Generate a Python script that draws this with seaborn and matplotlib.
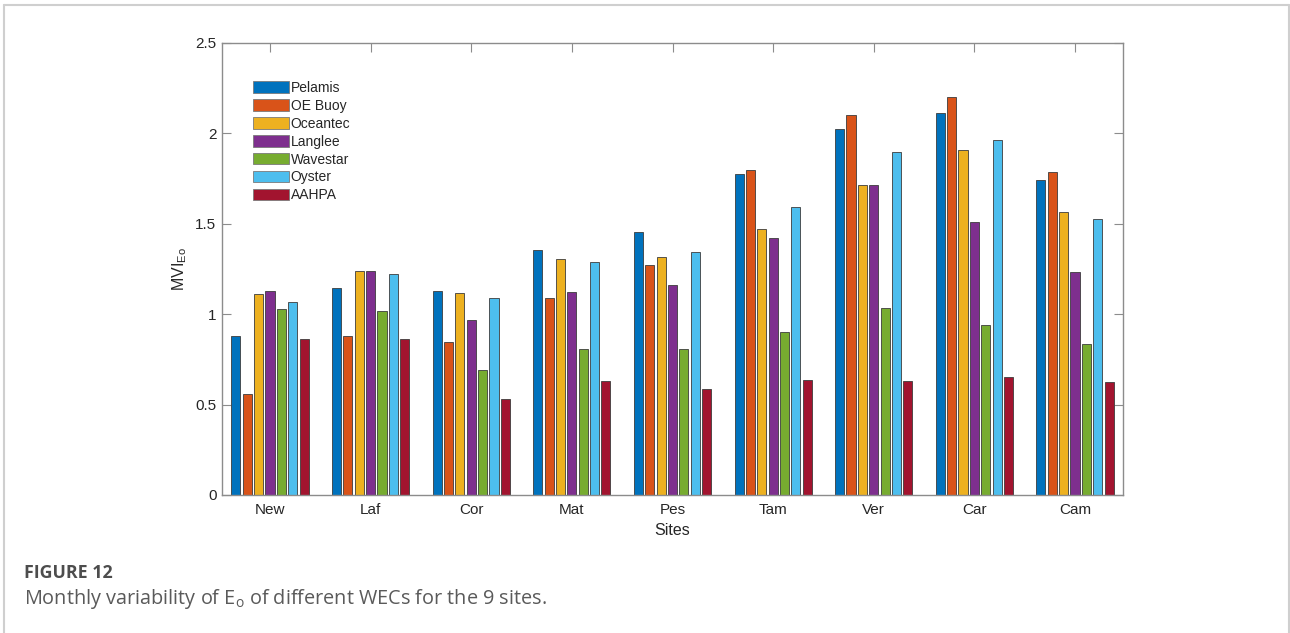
import matplotlib
matplotlib.use("Agg")
import matplotlib.pyplot as plt
from matplotlib.lines import Line2D
from matplotlib.ticker import FuncFormatter
import seaborn as sns
import pandas as pd

# Monthly variability index of Eo for each converter at each site
sites = ["New", "Laf", "Cor", "Mat", "Pes", "Tam", "Ver", "Car", "Cam"]
wecs = ["Pelamis", "OE Buoy", "Oceantec", "Langlee", "Wavestar", "Oyster", "AAHPA"]

pelamis = [0.879, 1.143, 1.128, 1.355, 1.456, 1.775, 2.022, 2.111, 1.740]
oe_buoy = [0.557, 0.879, 0.845, 1.090, 1.272, 1.800, 2.100, 2.200, 1.788]
oceantec = [1.112, 1.239, 1.117, 1.305, 1.318, 1.473, 1.716, 1.908, 1.563]
langlee = [1.130, 1.237, 0.970, 1.123, 1.161, 1.423, 1.714, 1.510, 1.231]
wavestar = [1.031, 1.019, 0.693, 0.806, 0.806, 0.903, 1.032, 0.940, 0.835]
oyster = [1.069, 1.222, 1.088, 1.290, 1.346, 1.593, 1.897, 1.965, 1.526]
aahpa = [0.865, 0.865, 0.529, 0.630, 0.584, 0.636, 0.630, 0.654, 0.623]

series = [pelamis, oe_buoy, oceantec, langlee, wavestar, oyster, aahpa]
colors = ["#0072BD", "#D95319", "#EDB120", "#7E2F8E", "#77AC30", "#4DBEEE", "#A2142F"]

rows = []
for name, vals in zip(wecs, series):
    for s, v in zip(sites, vals):
        rows.append({"Site": s, "WEC": name, "MVI": v})
df = pd.DataFrame(rows)

sns.set_style("white")
plt.rcParams["font.family"] = ["Liberation Sans", "DejaVu Sans"]
plt.rcParams["mathtext.fontset"] = "custom"
plt.rcParams["mathtext.rm"] = "Liberation Sans"

fig = plt.figure(figsize=(12.9, 6.33), dpi=100)
ax = fig.add_axes([222 / 1290, 1 - 495 / 633, 901 / 1290, 452 / 633])

sns.barplot(data=df, x="Site", y="MVI", hue="WEC", order=sites, hue_order=wecs,
            palette=colors, width=0.79, gap=0.2, errorbar=None,
            edgecolor="#3c3c3c", linewidth=0.6, saturation=1, ax=ax)

ax.set_xlim(-0.477, 8.477)
ax.set_ylim(0, 2.5)
ax.set_yticks([0, 0.5, 1, 1.5, 2, 2.5])
ax.yaxis.set_major_formatter(FuncFormatter(lambda v, p: f"{v:g}"))

spine_color = "#8c8c8c"
for sp in ax.spines.values():
    sp.set_visible(True)
    sp.set_color(spine_color)
    sp.set_linewidth(1.0)

ax.tick_params(axis="both", which="major", direction="in", length=6.5, width=0.8,
               color=spine_color, labelsize=11, labelcolor="#262626",
               top=True, right=True, bottom=True, left=True, pad=4)
ax.tick_params(axis="x", pad=5.5)

ax.set_xlabel("Sites", fontsize=11.5, color="#262626", labelpad=4.5)
ax.set_ylabel(r"MVI$_{\mathregular{Eo}}$", fontsize=11.5, color="#262626", labelpad=4.5)

leg = ax.legend(loc="upper left", bbox_to_anchor=(0.034, 0.916), frameon=False,
                fontsize=10, handlelength=2.6, handleheight=0.9, handletextpad=0.15,
                labelspacing=0.28, borderaxespad=0, borderpad=0)
for h in leg.legend_handles:
    h.set_edgecolor("#7a7a7a")
    h.set_linewidth(0.6)

# page frame
frame_kw = dict(color="#cfcfcf", linewidth=1.5, transform=fig.transFigure)
fig.add_artist(Line2D([4 / 1290, 1289 / 1290], [1 - 5 / 633, 1 - 5 / 633], **frame_kw))
fig.add_artist(Line2D([4 / 1290, 4 / 1290], [0, 1 - 5 / 633], **frame_kw))
fig.add_artist(Line2D([1288.5 / 1290, 1288.5 / 1290], [0, 1 - 5 / 633], **frame_kw))

# caption
fig.text(24 / 1290, 1 - 573 / 633, "FIGURE 12", family=["Open Sans", "DejaVu Sans"],
         fontweight="bold", fontsize=12.8, color="#4d4d4d", va="center", ha="left")
fig.text(24 / 1290, 1 - 599 / 633,
         r"Monthly variability of E$_{\mathregular{o}}$ of different WECs for the 9 sites.",
         family=["Open Sans", "DejaVu Sans"], fontsize=14.3, color="#5a5a5a",
         va="center", ha="left")

fig.savefig("out.png", dpi=100, facecolor="white")
